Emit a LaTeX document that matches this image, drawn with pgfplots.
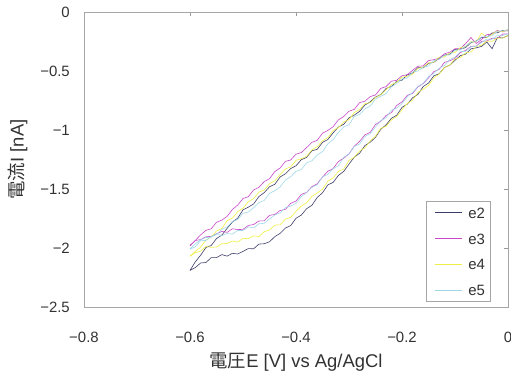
\documentclass[border=0pt]{standalone}
\usepackage{fontspec}
\setmainfont{Liberation Sans}
\newfontfamily\jp{Noto Sans CJK JP}
\usepackage{pgfplots}
\usepackage{pgfplotstable}
\pgfplotsset{compat=1.18}
\definecolor{ctwo}{RGB}{60,60,105}
\definecolor{cthree}{RGB}{200,70,200}
\definecolor{cfour}{RGB}{238,238,70}
\definecolor{cfive}{RGB}{160,216,232}
\definecolor{txt}{RGB}{50,50,50}
\pgfplotstableread{
x e2l e3l e4l e5l e2u e3u e4u e5u
-0.60 -2.19 -1.98 -2.07 -2.01 -2.19 -1.98 -2.07 -2.01
-0.59 -2.166 -1.936 -2.040 -1.964 -2.117 -1.936 -2.029 -1.990
-0.58 -2.127 -1.929 -2.027 -1.931 -2.062 -1.889 -1.992 -1.938
-0.57 -2.123 -1.905 -1.987 -1.911 -1.996 -1.850 -1.934 -1.936
-0.56 -2.082 -1.901 -1.994 -1.910 -1.979 -1.837 -1.906 -1.902
-0.55 -2.082 -1.879 -1.992 -1.878 -1.920 -1.782 -1.856 -1.888
-0.54 -2.056 -1.860 -1.964 -1.896 -1.891 -1.764 -1.835 -1.842
-0.53 -2.069 -1.867 -1.961 -1.877 -1.834 -1.732 -1.768 -1.822
-0.52 -2.045 -1.837 -1.941 -1.883 -1.780 -1.674 -1.746 -1.776
-0.51 -2.051 -1.844 -1.950 -1.852 -1.747 -1.636 -1.692 -1.759
-0.50 -2.029 -1.842 -1.918 -1.852 -1.677 -1.581 -1.663 -1.705
-0.49 -2.005 -1.809 -1.921 -1.821 -1.654 -1.565 -1.607 -1.696
-0.48 -2.007 -1.801 -1.897 -1.829 -1.627 -1.508 -1.582 -1.659
-0.47 -1.967 -1.771 -1.903 -1.795 -1.564 -1.486 -1.526 -1.615
-0.46 -1.964 -1.770 -1.862 -1.791 -1.531 -1.437 -1.509 -1.597
-0.45 -1.947 -1.723 -1.847 -1.754 -1.481 -1.413 -1.455 -1.537
-0.44 -1.904 -1.716 -1.806 -1.720 -1.460 -1.352 -1.431 -1.514
-0.43 -1.876 -1.682 -1.804 -1.702 -1.398 -1.322 -1.379 -1.482
-0.42 -1.831 -1.673 -1.755 -1.657 -1.371 -1.266 -1.330 -1.424
-0.41 -1.810 -1.622 -1.741 -1.644 -1.327 -1.254 -1.312 -1.396
-0.40 -1.748 -1.602 -1.689 -1.622 -1.303 -1.205 -1.257 -1.351
-0.39 -1.721 -1.546 -1.645 -1.564 -1.252 -1.191 -1.244 -1.335
-0.38 -1.667 -1.529 -1.617 -1.531 -1.232 -1.149 -1.222 -1.278
-0.37 -1.638 -1.480 -1.562 -1.486 -1.176 -1.105 -1.169 -1.261
-0.36 -1.572 -1.456 -1.534 -1.465 -1.164 -1.087 -1.141 -1.212
-0.35 -1.532 -1.399 -1.502 -1.398 -1.105 -1.027 -1.091 -1.183
-0.34 -1.466 -1.350 -1.434 -1.376 -1.081 -1.004 -1.065 -1.117
-0.33 -1.444 -1.327 -1.406 -1.327 -1.024 -0.972 -1.003 -1.082
-0.32 -1.385 -1.267 -1.351 -1.303 -0.975 -0.914 -0.981 -1.021
-0.31 -1.351 -1.239 -1.330 -1.232 -0.952 -0.886 -0.932 -0.974
-0.30 -1.289 -1.202 -1.258 -1.202 -0.897 -0.841 -0.913 -0.955
-0.29 -1.230 -1.137 -1.231 -1.141 -0.874 -0.825 -0.852 -0.886
-0.28 -1.197 -1.096 -1.177 -1.119 -0.842 -0.768 -0.827 -0.869
-0.27 -1.132 -1.041 -1.153 -1.055 -0.789 -0.756 -0.776 -0.820
-0.26 -1.104 -1.020 -1.092 -1.031 -0.761 -0.717 -0.769 -0.797
-0.25 -1.062 -0.953 -1.052 -0.974 -0.721 -0.703 -0.725 -0.737
-0.24 -0.994 -0.926 -0.986 -0.920 -0.700 -0.647 -0.701 -0.714
-0.23 -0.956 -0.877 -0.969 -0.897 -0.648 -0.632 -0.659 -0.692
-0.22 -0.901 -0.853 -0.915 -0.832 -0.631 -0.586 -0.615 -0.634
-0.21 -0.875 -0.792 -0.886 -0.814 -0.587 -0.579 -0.597 -0.606
-0.20 -0.808 -0.762 -0.829 -0.777 -0.578 -0.540 -0.552 -0.566
-0.19 -0.781 -0.706 -0.775 -0.719 -0.532 -0.531 -0.544 -0.560
-0.18 -0.727 -0.689 -0.747 -0.681 -0.517 -0.494 -0.527 -0.508
-0.17 -0.698 -0.635 -0.682 -0.631 -0.471 -0.460 -0.479 -0.501
-0.16 -0.632 -0.606 -0.654 -0.605 -0.474 -0.457 -0.466 -0.467
-0.15 -0.602 -0.559 -0.622 -0.548 -0.435 -0.412 -0.431 -0.458
-0.14 -0.541 -0.505 -0.559 -0.521 -0.426 -0.404 -0.425 -0.412
-0.13 -0.524 -0.487 -0.526 -0.477 -0.394 -0.392 -0.383 -0.402
-0.12 -0.470 -0.427 -0.471 -0.453 -0.365 -0.354 -0.381 -0.366
-0.11 -0.451 -0.414 -0.450 -0.402 -0.357 -0.341 -0.347 -0.364
-0.10 -0.409 -0.392 -0.398 -0.382 -0.317 -0.311 -0.343 -0.325
-0.09 -0.370 -0.344 -0.386 -0.336 -0.314 -0.310 -0.302 -0.321
-0.08 -0.357 -0.326 -0.347 -0.334 -0.302 -0.268 -0.292 -0.289
-0.07 -0.312 -0.291 -0.338 -0.295 -0.259 -0.216 -0.251 -0.255
-0.06 -0.304 -0.290 -0.292 -0.291 -0.246 -0.267 -0.254 -0.252
-0.05 -0.292 -0.248 -0.282 -0.259 -0.216 -0.233 -0.180 -0.212
-0.04 -0.254 -0.246 -0.246 -0.230 -0.215 -0.192 -0.216 -0.209
-0.03 -0.311 -0.222 -0.249 -0.232 -0.178 -0.187 -0.189 -0.202
-0.02 -0.216 -0.223 -0.220 -0.197 -0.176 -0.156 -0.160 -0.164
-0.01 -0.220 -0.187 -0.221 -0.199 -0.157 -0.169 -0.167 -0.161
0.00 -0.20 -0.185 -0.20 -0.185 -0.16 -0.15 -0.15 -0.15
}\cv

\begin{document}
\begin{tikzpicture}
\path[use as bounding box] (0,0) rectangle (511bp,377bp);
\begin{axis}[
  at={(84bp,70bp)}, anchor=south west,
  scale only axis, width=424bp, height=295bp,
  xmin=-0.8, xmax=0, ymin=-2.5, ymax=0,
  xtick={-0.8,-0.6,-0.4,-0.2,0},
  xticklabels={−0.8,−0.6,−0.4,−0.2,0},
  ytick={-2.5,-2,-1.5,-1,-0.5,0},
  yticklabels={−2.5,−2,−1.5,−1,−0.5,0},
  xtick pos=upper, xticklabel pos=lower,
  ytick pos=right, yticklabel pos=left,
  tick align=inside, major tick length=4bp,
  tick style={gray!80, line width=0.5bp},
  axis line style={gray!70, line width=0.6bp},
  ticklabel style={font=\fontsize{15}{15}\selectfont, text=txt, inner sep=0pt},
  xticklabel style={anchor=center, yshift=-30bp},
  yticklabel style={anchor=east, xshift=-14bp},
  xlabel={{\jp 電圧}E [V] vs Ag/AgCl},
  ylabel={{\jp 電流}I [nA]},
  xlabel style={at={(axis description cs:0.5,-0.185)}, anchor=center,
    font=\fontsize{18.5}{18.5}\selectfont, text=txt},
  ylabel style={at={(axis description cs:-0.156,0.5)}, anchor=center,
    font=\fontsize{18.5}{18.5}\selectfont, text=txt},
  legend entries={e2,e3,e4,e5},
  legend cell align=left,
  legend style={at={(rel axis cs:0.958,0.018)}, anchor=south east,
    draw=gray!70, line width=0.5bp, inner xsep=5bp, inner ysep=6bp,
    font=\fontsize{15}{15}\selectfont, text=txt, row sep=14.7bp,
    nodes={inner sep=0pt, text height=11bp, text depth=0pt},
    /tikz/column 1/.style={column sep=6bp}},
  legend image code/.code={\path (0bp,0bp); \draw[#1, line width=0.8bp] (3bp,0bp) -- (30bp,0bp);},
]
\addplot[ctwo, line width=0.6bp] table[x=x, y=e2l]{\cv};
\addplot[ctwo, line width=0.6bp, forget plot] table[x=x, y=e2u]{\cv};
\addplot[cthree, line width=0.6bp] table[x=x, y=e3l]{\cv};
\addplot[cthree, line width=0.6bp, forget plot] table[x=x, y=e3u]{\cv};
\addplot[cfour, line width=0.6bp] table[x=x, y=e4l]{\cv};
\addplot[cfour, line width=0.6bp, forget plot] table[x=x, y=e4u]{\cv};
\addplot[cfive, line width=0.6bp] table[x=x, y=e5l]{\cv};
\addplot[cfive, line width=0.6bp, forget plot] table[x=x, y=e5u]{\cv};
\end{axis}
\end{tikzpicture}
\end{document}
